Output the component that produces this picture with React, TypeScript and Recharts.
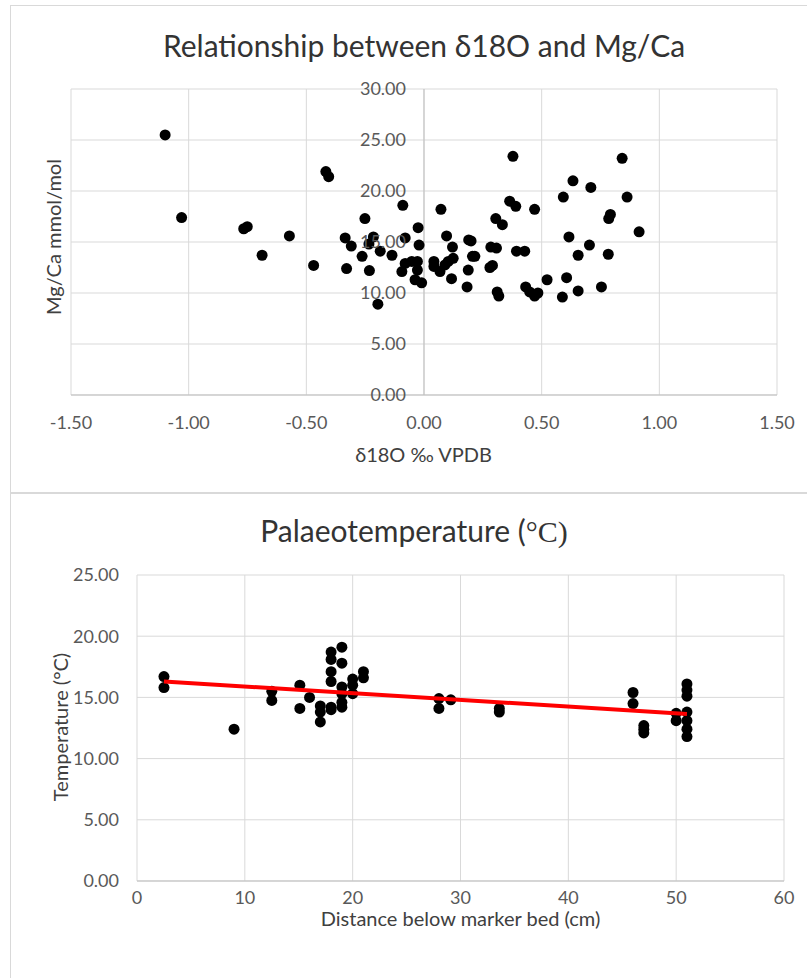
import { ScatterChart, Scatter, XAxis, YAxis, CartesianGrid, ReferenceLine } from "recharts";

// top chart: δ18O (‰ VPDB) vs Mg/Ca (mmol/mol)
const d18O = [
  -1.1, -1.03, -0.766, -0.751, -0.688, -0.572, -0.469, -0.417, -0.405, -0.335,
  -0.309, -0.329, -0.263, -0.251, -0.232, -0.215, -0.234, -0.186, -0.196, -0.136,
  -0.09, -0.08, -0.08, -0.094, -0.052, -0.025, -0.021, -0.028, -0.028, -0.038,
  -0.01, 0.042, 0.042, 0.068, 0.072, 0.096, 0.089, 0.103, 0.121, 0.124,
  0.117, 0.19, 0.2, 0.206, 0.216, 0.188, 0.183, 0.284, 0.308, 0.28,
  0.291, 0.305, 0.333, 0.364, 0.39, 0.378, 0.393, 0.428, 0.311, 0.318,
  0.432, 0.449, 0.47, 0.484, 0.47, 0.523, 0.588, 0.592, 0.606, 0.616,
  0.633, 0.655, 0.655, 0.703, 0.709, 0.754, 0.783, 0.785, 0.792, 0.842,
  0.863, 0.914,
];
const mgCa = [
  25.5, 17.4, 16.3, 16.5, 13.7, 15.6, 12.7, 21.9, 21.4, 15.4,
  14.6, 12.4, 13.6, 17.3, 12.2, 15.5, 14.8, 14.1, 8.9, 13.7,
  18.6, 15.4, 12.9, 12.1, 13.1, 16.4, 14.7, 13.1, 12.25, 11.3,
  11.0, 13.1, 12.6, 12.1, 18.2, 15.6, 12.75, 13.1, 14.5, 13.4,
  11.4, 15.2, 15.1, 13.6, 13.6, 12.25, 10.6, 14.5, 14.4, 12.5,
  12.7, 17.3, 16.7, 19.0, 18.5, 23.4, 14.1, 14.1, 10.1, 9.7,
  10.6, 10.1, 9.7, 10.0, 18.2, 11.3, 9.6, 19.4, 11.5, 15.5,
  21.0, 13.7, 10.2, 14.7, 20.35, 10.6, 13.8, 17.3, 17.7, 23.2,
  19.4, 16.0,
];

// bottom chart: distance below marker bed (cm) vs temperature (°C)
const distance = [
  2.5, 2.5, 9, 12.5, 12.5, 15.1, 15.1, 16, 17, 17,
  17, 18, 18, 18, 18, 18, 18, 19, 19, 19,
  19, 19, 19, 20, 20, 20, 21, 21, 28, 28,
  29.1, 33.6, 33.6, 46, 46, 47, 47, 47, 50, 50,
  51, 51, 51, 51, 51, 51, 51,
];
const temperature = [
  16.7, 15.8, 12.4, 15.5, 14.75, 16.0, 14.1, 15.0, 14.3, 13.8,
  13.0, 18.7, 18.1, 17.1, 16.3, 14.2, 14.0, 19.1, 17.8, 15.85,
  15.3, 14.6, 14.2, 16.5, 16.0, 15.3, 17.1, 16.6, 14.9, 14.1,
  14.8, 14.1, 13.8, 15.4, 14.5, 12.7, 12.4, 12.1, 13.7, 13.1,
  16.1, 15.6, 15.1, 13.8, 13.1, 12.4, 11.8,
];

// linear trendline end points
const trendX = [2.5, 51];
const trendY = [16.3, 13.65];

const topXTicks = [-1.5, -1, -0.5, 0, 0.5, 1, 1.5];
const topYTicks = [0, 5, 10, 15, 20, 25, 30];
const bottomXTicks = [0, 10, 20, 30, 40, 50, 60];
const bottomYTicks = [0, 5, 10, 15, 20, 25];

const topData = d18O.map((x, i) => ({ x, y: mgCa[i] }));
const bottomData = distance.map((x, i) => ({ x, y: temperature[i] }));
const trendData = trendX.map((x, i) => ({ x, y: trendY[i] }));

const FONT = "Lato, 'Open Sans', sans-serif";
const TICK = "#595959";
const GRID = "#d9d9d9";
const TICK_SIZE = 18;

const W = 807;
const TOP_H = 493;
const TOP_MARGIN = { top: 89, right: 30, bottom: 68, left: 70 };
const ZERO_X = TOP_MARGIN.left + 1 + (W - TOP_MARGIN.left - 1 - TOP_MARGIN.right) / 2;

const BOTTOM_H = 485;
const BOTTOM_MARGIN = { top: 82, right: 23, bottom: 67, left: 77 };

const Dot = (props: any) => <circle cx={props.cx} cy={props.cy} r={5.5} fill="#000" />;
const NoDot = () => null;

const TopYTick = ({ y, payload }: any) => (
  <text x={ZERO_X - 18} y={y} dy={6} textAnchor="end" fill={TICK} fontSize={TICK_SIZE} fontFamily={FONT}>
    {Number(payload.value).toFixed(2)}
  </text>
);

const label = (style: React.CSSProperties): React.CSSProperties => ({
  position: "absolute",
  fontFamily: FONT,
  whiteSpace: "nowrap",
  lineHeight: 1.2,
  ...style,
});

export default function App() {
  return (
    <div style={{ position: "absolute", left: 0, top: 0, width: W, height: 978, background: "#fff", overflow: "hidden" }}>
      <div style={{ position: "absolute", left: 10, top: 5, width: 810, height: TOP_H - 5, border: `1px solid ${GRID}`, boxSizing: "border-box" }} />
      <div style={{ position: "absolute", left: 10, top: TOP_H, width: 810, height: 500, border: `1px solid ${GRID}`, boxSizing: "border-box" }} />

      <div style={{ position: "absolute", left: 0, top: 0 }}>
        <ScatterChart width={W} height={TOP_H} margin={TOP_MARGIN}>
          <CartesianGrid stroke={GRID} />
          <XAxis
            type="number"
            dataKey="x"
            domain={[-1.5, 1.5]}
            ticks={topXTicks}
            tickFormatter={(v: number) => v.toFixed(2)}
            axisLine={{ stroke: "#bfbfbf" }}
            tickLine={false}
            tickSize={0}
            tickMargin={21}
            height={30}
            tick={{ fill: TICK, fontSize: TICK_SIZE, fontFamily: FONT }}
          />
          <YAxis
            type="number"
            dataKey="y"
            domain={[0, 30]}
            ticks={topYTicks}
            width={1}
            axisLine={false}
            tickLine={false}
            tick={<TopYTick />}
          />
          <ReferenceLine x={0} stroke="#bfbfbf" />
          <Scatter data={topData} fill="#000" shape={<Dot />} isAnimationActive={false} />
        </ScatterChart>
      </div>

      <div style={{ position: "absolute", left: 0, top: TOP_H }}>
        <ScatterChart width={W} height={BOTTOM_H} margin={BOTTOM_MARGIN}>
          <CartesianGrid stroke={GRID} />
          <XAxis
            type="number"
            dataKey="x"
            domain={[0, 60]}
            ticks={bottomXTicks}
            axisLine={{ stroke: "#bfbfbf" }}
            tickLine={false}
            tickSize={0}
            tickMargin={10}
            height={30}
            tick={{ fill: TICK, fontSize: TICK_SIZE, fontFamily: FONT }}
          />
          <YAxis
            type="number"
            dataKey="y"
            domain={[0, 25]}
            ticks={bottomYTicks}
            tickFormatter={(v: number) => v.toFixed(2)}
            width={60}
            axisLine={false}
            tickLine={false}
            tickSize={0}
            tickMargin={18}
            tick={{ fill: TICK, fontSize: TICK_SIZE, fontFamily: FONT }}
          />
          <Scatter data={bottomData} fill="#000" shape={<Dot />} isAnimationActive={false} />
          <Scatter
            data={trendData}
            shape={<NoDot />}
            line={{ stroke: "#ff0000", strokeWidth: 4 }}
            isAnimationActive={false}
          />
        </ScatterChart>
      </div>

      {/* titles and axis titles */}
      <div style={label({ left: 0, width: 848, top: 27, textAlign: "center", fontSize: 30, color: "#333" })}>
        Relationship between δ18O and Mg/Ca
      </div>
      <div style={label({ left: 0, width: 847, top: 442, textAlign: "center", fontSize: 20, color: "#404040" })}>
        δ18O ‰ VPDB
      </div>
      <div style={label({ left: 53, top: 237, fontSize: 20, color: "#404040", transform: "translate(-50%, -50%) rotate(-90deg)" })}>
        Mg/Ca mmol/mol
      </div>

      <div style={label({ left: 0, width: 828, top: 512, textAlign: "center", fontSize: 30, color: "#333" })}>
        Palaeotemperature (<span style={{ fontFamily: "'Liberation Serif', serif" }}>°C)</span>
      </div>
      <div style={label({ left: 0, width: 921, top: 906, textAlign: "center", fontSize: 20, color: "#404040" })}>
        Distance below marker bed (cm)
      </div>
      <div style={label({ left: 60, top: 727, fontSize: 20, color: "#404040", transform: "translate(-50%, -50%) rotate(-90deg)" })}>
        Temperature (°C)
      </div>
    </div>
  );
}
